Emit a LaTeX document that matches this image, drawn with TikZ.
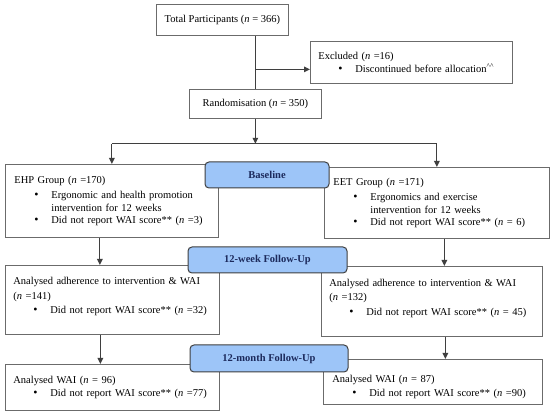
\documentclass[tikz,border=0pt]{standalone}
\usepackage{fontspec}
\setmainfont{Liberation Serif}
\usepackage{tikz}
\usetikzlibrary{arrows.meta,positioning}
\definecolor{flowline}{HTML}{3F3F3F}
\definecolor{flowedge}{HTML}{6B6B6B}
\definecolor{stagefill}{HTML}{9DC5F8}
\definecolor{stagetext}{HTML}{1C2A5C}
\newcommand{\bul}[1]{\hspace*{20pt}\makebox[17pt][l]{\fontsize{12}{12}\selectfont\textbullet}\mbox{#1}}
\newcommand{\cnt}[1]{\hspace*{37pt}\mbox{#1}}
\newcommand{\nn}{\textit{n}}

\begin{document}
\begin{tikzpicture}[x=1pt, y=-1pt,
  font=\fontsize{10.5}{12.5}\selectfont,
  card/.style={draw=flowedge, line width=0.8pt, anchor=north west, align=left,
               inner xsep=9pt, inner ysep=2pt},
  hub/.style={draw=flowedge, line width=0.8pt, anchor=north west, align=center, inner sep=2pt},
  stage/.style={draw=flowline, line width=1pt, fill=stagefill, rounded corners=4pt,
                text=stagetext, font=\fontsize{10.5}{12.5}\selectfont\bfseries},
  wire/.style={flowline, line width=1.1pt},
  lf/.style={wire, -{Triangle[length=6pt,width=5.5pt]}},
]
\fill[white] (0,0) rectangle (550,417);
\useasboundingbox (0,0) rectangle (550,417);

\node[hub, minimum width=132pt, minimum height=31pt] (total) at (156,4)
   {Total Participants (\nn{} = 366)};
\node[hub, minimum width=132pt, minimum height=29pt] (rand) at (189,89)
   {Randomisation (\nn{} = 350)};
\node[card, inner xsep=8pt, text width=186pt, minimum height=42pt] (excl) at (310,41)
   {Excluded (\nn{} =16)\\
    \bul{Discontinued before allocation\textsuperscript{\string^\string^}}};

\node[card, text width=195pt, minimum height=73pt] (ehp) at (5,164)
   {EHP Group (\nn{} =170)\\[3pt]
    \bul{Ergonomic and health promotion}\\
    \cnt{intervention for 12 weeks}\\
    \bul{Did not report WAI score** (\nn{} =3)}};
\node[card, text width=207pt, minimum height=71pt] (eet) at (324,167)
   {EET Group (\nn{} =171)\\[3pt]
    \bul{Ergonomics and exercise}\\
    \cnt{intervention for 12 weeks}\\
    \bul{Did not report WAI score** (\nn{} = 6)}};

\node[card, inner xsep=8pt, text width=198pt, minimum height=69pt] (wkL) at (5,265)
   {Analysed adherence to intervention \& WAI\\[2pt]
    (\nn{} =141)\\[2pt]
    \bul{Did not report WAI score** (\nn{} =32)}\\[-4pt]\mbox{}};
\node[card, inner xsep=8pt, text width=205pt, minimum height=70pt] (wkR) at (321,266)
   {Analysed adherence to intervention \& WAI\\[2pt]
    (\nn{} =132)\\[2pt]
    \bul{Did not report WAI score** (\nn{} = 45)}\\[-4pt]\mbox{}};

\node[card, inner xsep=8pt, text width=198pt, minimum height=46pt] (mL) at (5,364)
   {Analysed WAI (\nn{} = 96)\\
    \bul{Did not report WAI score** (\nn{} =77)}};
\node[card, text width=201pt, minimum height=45pt] (mR) at (323,359)
   {\rule{0pt}{17pt}Analysed WAI (\nn{} = 87)\\[2pt]
    \bul{Did not report WAI score** (\nn{} =90)}};

\coordinate (exc) at ([yshift=-7pt]excl.west);
\coordinate (split) at ([yshift=-25pt]rand.south);
\draw[wire] (total.south -| rand.north) -- (rand.north);
\draw[lf] (rand.north |- exc) -- (exc);
\draw[lf] (rand.south) -- (split);
\draw[wire] (split -| ehp.north) -- (split -| eet.north);
\draw[lf] (split -| ehp.north) -- (ehp.north);
\draw[lf] (split -| eet.north) -- (eet.north);
\draw[lf] ([xshift=-12pt]ehp.south) -- ([xshift=-12pt]ehp.south |- wkL.north);
\draw[lf] ([xshift=7.5pt]eet.south) -- ([xshift=7.5pt]eet.south |- wkR.north);
\draw[lf] ([xshift=-12pt]wkL.south) -- ([xshift=-12pt]wkL.south |- mL.north);
\draw[lf] ([xshift=13.5pt]wkR.south) -- ([xshift=13.5pt]wkR.south |- mR.north);

\node[stage, minimum width=124pt, minimum height=26pt] (base) at (267,175) {Baseline};
\node[stage, minimum width=159pt, minimum height=26pt] (wk12) at (267.5,260) {12-week Follow-Up};
\node[stage, minimum width=158pt, minimum height=27pt] (mo12) at (269,358.5) {12-month Follow-Up};
\end{tikzpicture}
\end{document}
